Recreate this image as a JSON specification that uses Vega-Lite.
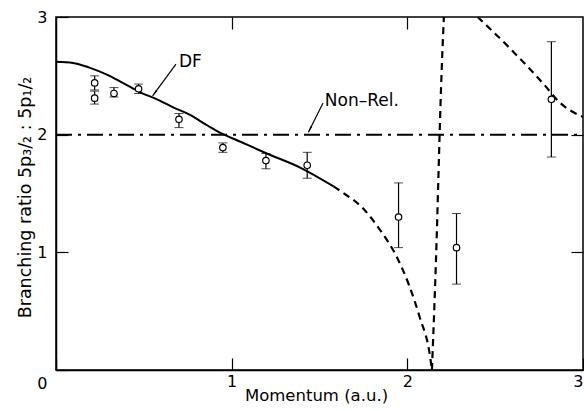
{
  "$schema": "https://vega.github.io/schema/vega-lite/v6.json",
  "width": 527,
  "height": 353,
  "autosize": {"type": "none"},
  "padding": {"left": 56, "top": 17, "right": 1, "bottom": 41},
  "background": "white",
  "config": {
    "view": {"stroke": "black", "strokeWidth": 1.5},
    "font": "DejaVu Sans",
    "axis": {"grid": false, "domainColor": "black", "domainWidth": 1.5, "tickColor": "black", "tickWidth": 1.2, "labelColor": "black", "titleColor": "black", "labelFont": "DejaVu Sans", "titleFont": "DejaVu Sans", "labelFontSize": 16, "titleFontSize": 16.5, "titleFontWeight": "normal"}
  },
  "resolve": {"axis": {"x": "independent", "y": "independent"}},
  "datasets": {
    "pts": [
      {"x": 0.22, "y": 2.44, "lo": 2.38, "hi": 2.50},
      {"x": 0.22, "y": 2.31, "lo": 2.26, "hi": 2.37},
      {"x": 0.33, "y": 2.35, "lo": 2.32, "hi": 2.40},
      {"x": 0.47, "y": 2.39, "lo": 2.35, "hi": 2.43},
      {"x": 0.70, "y": 2.13, "lo": 2.06, "hi": 2.18},
      {"x": 0.95, "y": 1.89, "lo": 1.85, "hi": 1.93},
      {"x": 1.195, "y": 1.78, "lo": 1.71, "hi": 1.84},
      {"x": 1.43, "y": 1.74, "lo": 1.63, "hi": 1.85},
      {"x": 1.95, "y": 1.30, "lo": 1.04, "hi": 1.59},
      {"x": 2.28, "y": 1.04, "lo": 0.73, "hi": 1.33},
      {"x": 2.82, "y": 2.30, "lo": 1.81, "hi": 2.79}
    ],
    "df": [
      {"i": 0, "x": 0.0, "y": 2.62},
      {"i": 1, "x": 0.097, "y": 2.61},
      {"i": 2, "x": 0.19, "y": 2.57},
      {"i": 3, "x": 0.29, "y": 2.51},
      {"i": 4, "x": 0.38, "y": 2.44},
      {"i": 5, "x": 0.48, "y": 2.36},
      {"i": 6, "x": 0.575, "y": 2.30},
      {"i": 7, "x": 0.67, "y": 2.23},
      {"i": 8, "x": 0.76, "y": 2.17},
      {"i": 9, "x": 0.86, "y": 2.08},
      {"i": 10, "x": 0.93, "y": 2.02},
      {"i": 11, "x": 1.05, "y": 1.94},
      {"i": 12, "x": 1.20, "y": 1.84},
      {"i": 13, "x": 1.39, "y": 1.72},
      {"i": 14, "x": 1.58, "y": 1.56}
    ],
    "dash": [
      {"seg": "a", "i": 0, "x": 1.58, "y": 1.56},
      {"seg": "a", "i": 1, "x": 1.63, "y": 1.51},
      {"seg": "a", "i": 2, "x": 1.75, "y": 1.37},
      {"seg": "a", "i": 3, "x": 1.84, "y": 1.20},
      {"seg": "a", "i": 4, "x": 1.94, "y": 0.96},
      {"seg": "a", "i": 5, "x": 2.01, "y": 0.72},
      {"seg": "a", "i": 6, "x": 2.07, "y": 0.45},
      {"seg": "a", "i": 7, "x": 2.13, "y": 0.11},
      {"seg": "a", "i": 8, "x": 2.14, "y": 0.0},
      {"seg": "b", "i": 0, "x": 2.14, "y": 0.0},
      {"seg": "b", "i": 1, "x": 2.17, "y": 1.27},
      {"seg": "b", "i": 2, "x": 2.178, "y": 1.70},
      {"seg": "b", "i": 3, "x": 2.192, "y": 2.4},
      {"seg": "b", "i": 4, "x": 2.208, "y": 3.0},
      {"seg": "c", "i": 0, "x": 2.40, "y": 3.0},
      {"seg": "c", "i": 1, "x": 2.58, "y": 2.74},
      {"seg": "c", "i": 2, "x": 2.77, "y": 2.44},
      {"seg": "c", "i": 3, "x": 2.87, "y": 2.27},
      {"seg": "c", "i": 4, "x": 3.0, "y": 2.15}
    ],
    "nonrel": [
      {"x": 0.0, "y": 2.0},
      {"x": 3.0, "y": 2.0}
    ],
    "labels": [
      {"x": 0.70, "y": 2.62, "t": "DF"},
      {"x": 1.53, "y": 2.29, "t": "Non–Rel."}
    ],
    "leaders": [
      {"x": 0.683, "y": 2.60, "x2": 0.55, "y2": 2.33},
      {"x": 1.52, "y": 2.27, "x2": 1.437, "y2": 2.02}
    ],
    "heads": [
      {"x": 0.565, "y": 2.36, "a": 215},
      {"x": 1.447, "y": 2.05, "a": 205}
    ]
  },
  "layer": [
    {
      "data": {"name": "nonrel"},
      "mark": {"type": "line", "color": "black", "strokeWidth": 2, "strokeDash": [16, 6, 3, 6]},
      "encoding": {
        "x": {"field": "x", "type": "quantitative", "scale": {"domain": [0, 3]},
          "axis": {"values": [0, 1, 2, 3], "format": "d", "title": "Momentum (a.u.)", "tickSize": -12, "labelPadding": 15,
            "labelExpr": "datum.value == 0 ? '' : datum.label",
            "titleX": 260, "titleY": 25, "titleAlign": "center", "titleBaseline": "middle"}},
        "y": {"field": "y", "type": "quantitative", "scale": {"domain": [0, 3]},
          "axis": {"values": [0, 1, 2, 3], "format": "d", "title": "Branching ratio  5p₃/₂ : 5p₁/₂", "tickSize": -12, "labelPadding": 21,
            "labelOffset": {"condition": {"test": "datum.value == 0", "value": 13}, "value": 0},
            "titleFontSize": 17.5,
            "titleX": -31, "titleY": 180, "titleAngle": -90, "titleAlign": "center", "titleBaseline": "middle"}}
      }
    },
    {
      "data": {"name": "nonrel"},
      "mark": {"type": "line", "opacity": 0},
      "encoding": {
        "x": {"field": "x", "type": "quantitative",
          "axis": {"orient": "top", "values": [1, 2], "labels": false, "title": null, "tickSize": -12, "domain": false}},
        "y": {"field": "y", "type": "quantitative",
          "axis": {"orient": "right", "values": [1, 2], "labels": false, "title": null, "tickSize": -12, "domain": false}}
      }
    },
    {
      "data": {"name": "df"},
      "mark": {"type": "line", "color": "black", "strokeWidth": 2, "interpolate": "monotone"},
      "encoding": {
        "x": {"field": "x", "type": "quantitative", "axis": null},
        "y": {"field": "y", "type": "quantitative", "axis": null},
        "order": {"field": "i", "type": "quantitative"}
      }
    },
    {
      "data": {"name": "dash"},
      "mark": {"type": "line", "color": "black", "strokeWidth": 2.2, "strokeDash": [7, 5], "clip": true, "interpolate": "monotone"},
      "encoding": {
        "x": {"field": "x", "type": "quantitative", "axis": null},
        "y": {"field": "y", "type": "quantitative", "axis": null},
        "detail": {"field": "seg", "type": "nominal"},
        "order": {"field": "i", "type": "quantitative"}
      }
    },
    {
      "data": {"name": "pts"},
      "mark": {"type": "errorbar", "ticks": {"size": 9, "color": "black", "strokeWidth": 1.2}, "rule": {"color": "black", "strokeWidth": 1.2}},
      "encoding": {
        "x": {"field": "x", "type": "quantitative", "axis": null},
        "y": {"field": "lo", "type": "quantitative", "axis": null},
        "y2": {"field": "hi"}
      }
    },
    {
      "data": {"name": "pts"},
      "mark": {"type": "point", "shape": "circle", "size": 42, "fill": "white", "stroke": "black", "strokeWidth": 1.2, "filled": false, "opacity": 1},
      "encoding": {
        "x": {"field": "x", "type": "quantitative", "axis": null},
        "y": {"field": "y", "type": "quantitative", "axis": null}
      }
    },
    {
      "data": {"name": "leaders"},
      "mark": {"type": "rule", "color": "black", "strokeWidth": 1.2},
      "encoding": {
        "x": {"field": "x", "type": "quantitative", "axis": null},
        "y": {"field": "y", "type": "quantitative", "axis": null},
        "x2": {"field": "x2"},
        "y2": {"field": "y2"}
      }
    },
    {
      "data": {"name": "heads"},
      "mark": {"type": "point", "shape": "wedge", "size": 60, "filled": true, "color": "black", "opacity": 1},
      "encoding": {
        "x": {"field": "x", "type": "quantitative", "axis": null},
        "y": {"field": "y", "type": "quantitative", "axis": null},
        "angle": {"field": "a", "type": "quantitative", "scale": null}
      }
    },
    {
      "data": {"name": "labels"},
      "mark": {"type": "text", "align": "left", "baseline": "middle", "fontSize": 17, "font": "DejaVu Sans", "color": "black"},
      "encoding": {
        "x": {"field": "x", "type": "quantitative", "axis": null},
        "y": {"field": "y", "type": "quantitative", "axis": null},
        "text": {"field": "t", "type": "nominal"}
      }
    }
  ]
}
